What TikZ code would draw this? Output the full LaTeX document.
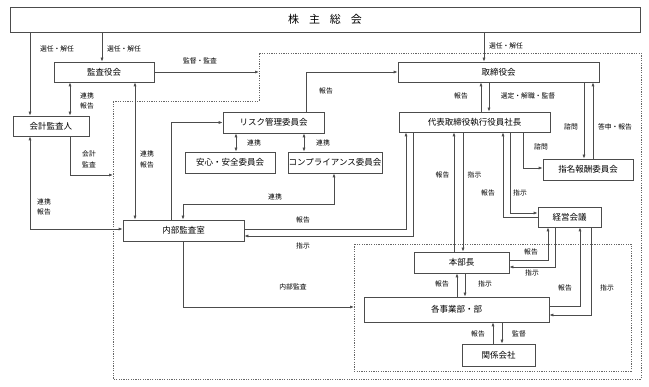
\documentclass[tikz,border=0pt]{standalone}
\usepackage{fontspec}
\setmainfont{Noto Sans CJK JP}
\usetikzlibrary{arrows.meta}
\begin{document}
\begin{tikzpicture}[x=1pt,y=-1pt,
 box/.style={draw=black!70, line width=0.7pt, fill=white, inner sep=0pt, font=\fontsize{8.5}{10}\selectfont},
 lbl/.style={font=\fontsize{6.8}{10.5}\selectfont, inner sep=0.5pt, align=center},
 con/.style={draw=black!70, line width=0.7pt},
 arr/.style={con,-{Latex[length=4pt,width=3pt]}},
 darr/.style={con,{Latex[length=4pt,width=3pt]}-{Latex[length=4pt,width=3pt]}},
 frame/.style={draw=black!60, line width=0.6pt, dash pattern=on 1.2pt off 1.2pt}]
\useasboundingbox (0,0) rectangle (649,387);
\fill[white] (0,0) rectangle (649,387);
% dotted frames
\draw[frame] (113,101) -- (259,101) -- (259,53) -- (641,53) -- (641,379) -- (113,379) -- cycle;
\draw[frame] (354,244) rectangle (631,371);
% boxes
\node[box, minimum width=630pt, minimum height=25pt, font=\fontsize{11}{13}\selectfont] (kabu) at (325,19.5) {株\hspace{10pt}主\hspace{10pt}総\hspace{10pt}会};
\node[box, minimum width=100pt, minimum height=20pt] (kansa) at (104,72) {監査役会};
\node[box, minimum width=76pt, minimum height=20pt] (kaikei) at (51,126) {会計監査人};
\node[box, minimum width=101pt, minimum height=21pt] (risk) at (273.5,122.5) {リスク管理委員会};
\node[box, minimum width=90pt, minimum height=21pt] (anshin) at (230,162.5) {安心・安全委員会};
\node[box, minimum width=94pt, minimum height=21pt] (comp) at (335,162.5) {コンプライアンス委員会};
\node[box, minimum width=201pt, minimum height=20pt] (tori) at (498.5,72) {取締役会};
\node[box, minimum width=151pt, minimum height=20pt] (daihyo) at (474.5,122) {代表取締役執行役員社長};
\node[box, minimum width=90pt, minimum height=21pt] (shimei) at (588,169.5) {指名報酬委員会};
\node[box, minimum width=121pt, minimum height=21pt] (naibu) at (183.5,230.5) {内部監査室};
\node[box, minimum width=63pt, minimum height=20pt] (keiei) at (569.5,217) {経営会議};
\node[box, minimum width=95pt, minimum height=21pt] (honbu) at (461.5,262.5) {本部長};
\node[box, minimum width=185pt, minimum height=25pt] (kaku) at (456.5,309.5) {各事業部・部};
\node[box, minimum width=73pt, minimum height=22pt] (kankei) at (498.5,355) {関係会社};
% frame entry points
\coordinate (f1) at (259,72);
\coordinate (f2) at (113,175);
\coordinate (f3) at (354,307);
% connectors
\draw[arr] (kabu.south -| 30,0) -- (kaikei.north -| 30,0);
\draw[arr] (kabu.south -| 102,0) -- (kansa.north -| 102,0);
\draw[arr] (kabu.south -| 484,0) -- (tori.north -| 484,0);
\draw[arr] (kansa.east) -- (f1);
\draw[darr] (kansa.south -| 70,0) -- (kaikei.north -| 70,0);
\draw[arr] (kaikei.south -| 70,0) |- (f2);
\draw[darr] (kansa.south -| 135,0) -- (naibu.north -| 135,0);
\draw[darr] (kaikei.south -| 30,0) |- (naibu.west |- 0,229);
\draw[arr] (naibu.north -| 171,0) |- (risk.west);
\draw[arr] (risk.north -| 306,0) |- (tori.west);
\draw[darr] (risk.south -| 236,0) -- (anshin.north -| 236,0);
\draw[darr] (risk.south -| 304,0) -- (comp.north -| 304,0);
\draw[darr] (comp.south -| 334,0) -- (334,204) -| (naibu.north -| 183,0);
\draw[arr] (naibu.east |- 0,229) -| (daihyo.south -| 406,0);
\draw[arr] (daihyo.south -| 413,0) |- (naibu.east |- 0,236);
\draw[arr] (daihyo.north -| 481,0) -- (tori.south -| 481,0);
\draw[arr] (tori.south -| 489,0) -- (daihyo.north -| 489,0);
\draw[arr] (tori.south -| 584,0) -- (shimei.north -| 584,0);
\draw[arr] (shimei.north -| 593,0) -- (tori.south -| 593,0);
\draw[arr] (daihyo.south -| 523,0) |- (shimei.west |- 0,168);
\draw[arr] (honbu.north -| 454,0) -- (daihyo.south -| 454,0);
\draw[arr] (daihyo.south -| 463,0) -- (honbu.north -| 463,0);
\draw[arr] (keiei.west |- 0,217) -| (daihyo.south -| 503,0);
\draw[arr] (daihyo.south -| 510,0) |- (keiei.west |- 0,213);
\draw[arr] (honbu.east |- 0,260) -| (keiei.south -| 548,0);
\draw[arr] (keiei.south -| 555,0) |- (honbu.east |- 0,267);
\draw[arr] (kaku.east |- 0,306) -| (keiei.south -| 580,0);
\draw[arr] (keiei.south -| 591,0) |- (kaku.east |- 0,315);
\draw[arr] (kaku.north -| 457,0) -- (honbu.south -| 457,0);
\draw[arr] (honbu.south -| 465,0) -- (kaku.north -| 465,0);
\draw[arr] (kankei.north -| 493,0) -- (kaku.south -| 493,0);
\draw[arr] (kaku.south -| 502,0) -- (kankei.north -| 502,0);
\draw[arr] (naibu.south -| 183,0) |- (f3);
% labels
\node[lbl] (l1) at (57,49) {選任・解任};
\node[lbl] (l2) at (124,49) {選任・解任};
\node[lbl] (l3) at (506,46) {選任・解任};
\node[lbl] (l4) at (200,61) {監督・監査};
\node[lbl] (l5) at (87,101) {連携\\報告};
\node[lbl] (l6) at (89,159.5) {会計\\監査};
\node[lbl] (l7) at (147,159.5) {連携\\報告};
\node[lbl] (l8) at (44,207) {連携\\報告};
\node[lbl] (l9) at (326,91) {報告};
\node[lbl] (l10) at (254,143) {連携};
\node[lbl] (l11) at (323,143) {連携};
\node[lbl] (l12) at (275,197) {連携};
\node[lbl] (l13) at (303,220) {報告};
\node[lbl] (l14) at (303,246) {指示};
\node[lbl] (l15) at (461,96) {報告};
\node[lbl] (l16) at (528,96) {選定・解職・監督};
\node[lbl] (l17) at (571,127) {諮問};
\node[lbl] (l18) at (615,127) {答申・報告};
\node[lbl] (l19) at (541,147) {諮問};
\node[lbl] (l20) at (442.5,175) {報告};
\node[lbl] (l21) at (474.5,175) {指示};
\node[lbl] (l22) at (488,193) {報告};
\node[lbl] (l23) at (520,193) {指示};
\node[lbl] (l24) at (531,252) {報告};
\node[lbl] (l25) at (532,273) {指示};
\node[lbl] (l26) at (565,288) {報告};
\node[lbl] (l27) at (607,288) {指示};
\node[lbl] (l28) at (442,284) {報告};
\node[lbl] (l29) at (485,284) {指示};
\node[lbl] (l30) at (478,334) {報告};
\node[lbl] (l31) at (519,334) {監督};
\node[lbl] (l32) at (293,287) {内部監査};
\end{tikzpicture}
\end{document}
